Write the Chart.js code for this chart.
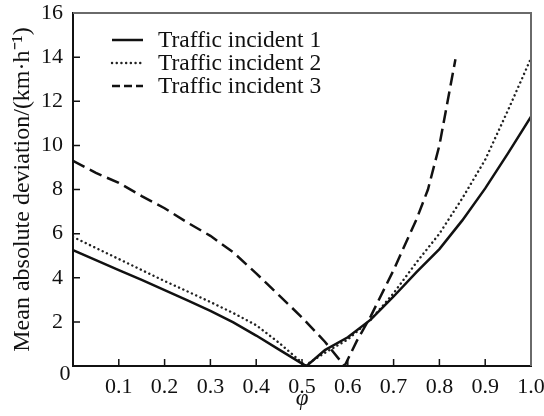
<!DOCTYPE html>
<html>
<head>
<meta charset="utf-8">
<script src="https://cdn.jsdelivr.net/npm/chart.js@4.4.1/dist/chart.umd.min.js"></script>
<style>
  html, body { margin: 0; padding: 0; background: #ffffff; }
  #wrap { width: 544px; height: 416px; }
</style>
</head>
<body>
<div id="wrap"><canvas id="chart" width="544" height="416"></canvas></div>
<script>
// Smoothing factor φ and mean absolute deviation (km·h⁻¹) for each incident
const phi1 = [0, 0.05, 0.1, 0.15, 0.2, 0.25, 0.3, 0.35, 0.4, 0.45, 0.5, 0.51, 0.55, 0.6, 0.65, 0.7, 0.75, 0.8, 0.85, 0.9, 0.95, 1.0];
const mad1 = [5.25, 4.8, 4.35, 3.9, 3.44, 2.97, 2.5, 1.98, 1.38, 0.74, 0.11, 0, 0.72, 1.3, 2.1, 3.15, 4.25, 5.3, 6.6, 8.05, 9.65, 11.3];

const phi2 = [0, 0.05, 0.1, 0.15, 0.2, 0.25, 0.3, 0.35, 0.4, 0.45, 0.5, 0.505, 0.55, 0.6, 0.65, 0.7, 0.75, 0.8, 0.85, 0.9, 0.95, 1.0];
const mad2 = [5.85, 5.35, 4.85, 4.35, 3.85, 3.38, 2.9, 2.4, 1.85, 1.05, 0.15, 0, 0.6, 1.2, 2.1, 3.3, 4.7, 6.0, 7.6, 9.35, 11.6, 13.95];

const phi3 = [0, 0.05, 0.1, 0.15, 0.2, 0.25, 0.3, 0.35, 0.4, 0.45, 0.5, 0.55, 0.593, 0.62, 0.65, 0.7, 0.75, 0.775, 0.8, 0.835];
const mad3 = [9.3, 8.75, 8.3, 7.7, 7.15, 6.5, 5.9, 5.15, 4.2, 3.2, 2.2, 1.1, 0, 1.15, 2.25, 4.35, 6.65, 8.0, 10.0, 13.9];

const seriesNames = ['Traffic incident 1', 'Traffic incident 2', 'Traffic incident 3'];

const xTickValues = [0.1, 0.2, 0.3, 0.4, 0.5, 0.6, 0.7, 0.8, 0.9, 1.0];
const yTickValues = [2, 4, 6, 8, 10, 12, 14, 16];
const originLabel = '0';

const SERIF = '"Liberation Serif", "Times New Roman", serif';
const INK = '#111111';

function points(xs, ys) {
  return xs.map((x, i) => ({ x: x, y: ys[i] }));
}

// dash patterns used for the short key samples
const keyDashes = [[], [0.1, 4.6], [8, 4]];

// Key drawn in the upper-left corner of the plot
const seriesKey = {
  id: 'seriesKey',
  afterDatasetsDraw(chart) {
    const { ctx, chartArea } = chart;
    const x0 = chartArea.left + 39;
    const y0 = chartArea.top + 27;
    const row = 23, len = 31, gap = 15;
    ctx.save();
    ctx.font = '23.5px ' + SERIF;
    ctx.textBaseline = 'middle';
    ctx.textAlign = 'left';
    chart.data.datasets.forEach((ds, i) => {
      const y = y0 + i * row;
      ctx.beginPath();
      ctx.setLineDash(keyDashes[i]);
      ctx.lineCap = ds.borderCapStyle || 'butt';
      ctx.lineWidth = ds.borderWidth;
      ctx.strokeStyle = ds.borderColor;
      ctx.moveTo(x0, y);
      ctx.lineTo(x0 + len, y);
      ctx.stroke();
      ctx.setLineDash([]);
      ctx.fillStyle = INK;
      ctx.fillText(ds.label, x0 + len + gap, y + 1);
    });
    ctx.restore();
  }
};

// Frame, inward tick marks and the shared origin label
const frameAndTicks = {
  id: 'frameAndTicks',
  afterDraw(chart) {
    const { ctx, chartArea, scales } = chart;
    const { left, right, top, bottom } = chartArea;
    ctx.save();
    ctx.setLineDash([]);
    ctx.lineCap = 'butt';
    ctx.strokeStyle = '#6a6a6a';
    ctx.lineWidth = 2;
    ctx.beginPath();
    ctx.moveTo(left, top);
    ctx.lineTo(right, top);
    ctx.lineTo(right, bottom);
    ctx.stroke();

    ctx.strokeStyle = INK;
    ctx.lineWidth = 1.5;
    ctx.beginPath();
    xTickValues.forEach(v => {
      if (v >= scales.x.max) return;
      const px = scales.x.getPixelForValue(v);
      ctx.moveTo(px, bottom);
      ctx.lineTo(px, bottom - 7);
    });
    yTickValues.forEach(v => {
      if (v >= scales.y.max) return;
      const py = scales.y.getPixelForValue(v);
      ctx.moveTo(left, py);
      ctx.lineTo(left + 7, py);
    });
    ctx.stroke();

    ctx.fillStyle = INK;
    ctx.font = '22px ' + SERIF;
    ctx.textAlign = 'center';
    ctx.textBaseline = 'middle';
    ctx.fillText(originLabel, left - 8, bottom + 8);
    ctx.restore();
  }
};

new Chart(document.getElementById('chart'), {
  type: 'line',
  data: {
    datasets: [
      {
        label: seriesNames[0],
        data: points(phi1, mad1),
        borderColor: INK,
        borderWidth: 2.5,
        borderCapStyle: 'butt'
      },
      {
        label: seriesNames[1],
        data: points(phi2, mad2),
        borderColor: '#222222',
        borderWidth: 2.4,
        borderDash: [0.1, 4.6],
        borderCapStyle: 'round'
      },
      {
        label: seriesNames[2],
        data: points(phi3, mad3),
        borderColor: INK,
        borderWidth: 2.5,
        borderDash: [13, 6],
        borderCapStyle: 'butt'
      }
    ]
  },
  options: {
    responsive: false,
    animation: false,
    devicePixelRatio: 1,
    layout: { padding: { left: 0, right: 13, top: 13, bottom: 0 } },
    elements: {
      point: { radius: 0, hoverRadius: 0 },
      line: { tension: 0, fill: false }
    },
    plugins: {
      legend: { display: false },
      tooltip: { enabled: false }
    },
    scales: {
      x: {
        type: 'linear',
        min: 0,
        max: 1,
        grid: { display: false, drawTicks: false },
        border: { display: true, color: INK, width: 2 },
        afterBuildTicks(scale) {
          scale.ticks = xTickValues.map(v => ({ value: v }));
        },
        afterFit(scale) {
          scale.height = 50;
          scale.paddingLeft = 0;
          scale.paddingRight = 0;
        },
        ticks: {
          autoSkip: false,
          maxRotation: 0,
          padding: 8,
          color: INK,
          font: { family: SERIF, size: 22 },
          callback: v => Number(v).toFixed(1)
        },
        title: {
          display: true,
          text: 'φ',
          color: INK,
          font: { family: SERIF, size: 23, style: 'italic' },
          padding: { top: 0, bottom: 3 }
        }
      },
      y: {
        type: 'linear',
        min: 0,
        max: 16,
        grid: { display: false, drawTicks: false },
        border: { display: true, color: INK, width: 2 },
        afterBuildTicks(scale) {
          scale.ticks = yTickValues.map(v => ({ value: v }));
        },
        afterFit(scale) {
          scale.width = 73;
          scale.paddingTop = 0;
          scale.paddingBottom = 0;
        },
        ticks: {
          autoSkip: false,
          padding: 10,
          color: INK,
          font: { family: SERIF, size: 22 },
          callback: v => String(v)
        },
        title: {
          display: true,
          text: 'Mean absolute deviation/(km·h⁻¹)',
          color: INK,
          font: { family: SERIF, size: 24 },
          padding: { top: 8, bottom: 0 }
        }
      }
    }
  },
  plugins: [seriesKey, frameAndTicks]
});
</script>
</body>
</html>
